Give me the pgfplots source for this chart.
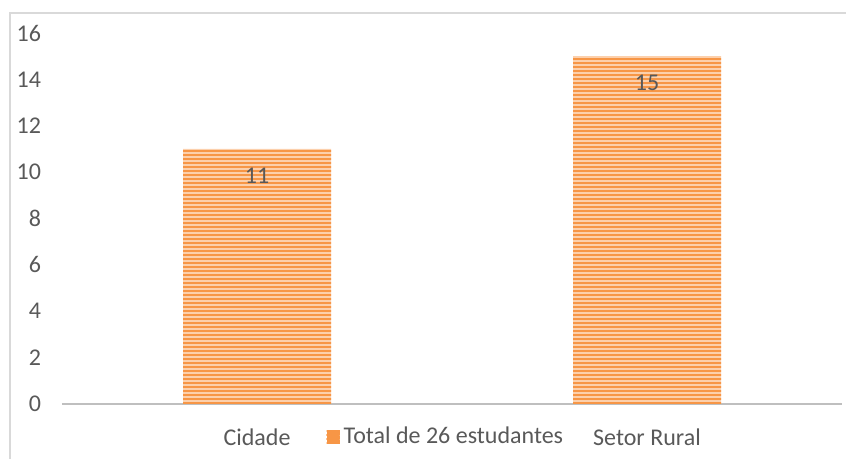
\documentclass[border=0pt]{standalone}
\usepackage{pgfplots}
\pgfplotsset{compat=1.18}
\usetikzlibrary{patterns.meta}
\usepackage{fontspec}
\setmainfont{Carlito}
\definecolor{txt}{HTML}{595959}
\definecolor{frame}{HTML}{D9D9D9}
\definecolor{axisgray}{HTML}{BFBFBF}
\definecolor{barlight}{HTML}{FCD0AC}
\definecolor{bardark}{HTML}{F79646}
\begin{document}
\begin{tikzpicture}[x=1pt,y=1pt]
\useasboundingbox (0,0) rectangle (423,229.5);
\draw[frame, line width=0.8pt] (5,0) -- (5,223) -- (423,223);
\begin{axis}[
  at={(31pt,27.5pt)}, anchor=south west,
  scale only axis, width=390pt, height=185.5pt,
  xmin=-0.5, xmax=1.5, ymin=0, ymax=16,
  xtick={0,1}, xticklabels={Cidade, Setor Rural},
  ytick={0,2,...,16},
  axis y line*=left, axis x line*=bottom,
  y axis line style={draw=none},
  x axis line style={axisgray, line width=1.3pt, -},
  major tick length=0pt,
  ymajorgrids=false,
  ybar, bar width=74pt,
  /pgf/number format/assume math mode=true,
  tick label style={font=\fontsize{12}{14}\selectfont, text=txt},
  yticklabel style={anchor=east, xshift=-7pt},
  xticklabel style={anchor=center, yshift=-16.5pt},
  nodes near coords,
  every node near coord/.append style={font=\fontsize{12}{14}\selectfont, text=txt, anchor=center, yshift=-13.5pt},
  legend style={at={(rel axis cs:0.4935,-0.089)}, anchor=center, draw=none, fill=none,
     font=\fontsize{12}{14}\selectfont, text=txt, inner sep=0pt,
     /tikz/every even column/.append style={column sep=2.5pt}},
  legend image code/.code={\fill[bardark] (0pt,-3.3pt) rectangle (6.5pt,3.3pt);
     \fill[barlight] (0pt,-1.6pt) rectangle (6.5pt,-0.8pt);
     \fill[barlight] (0pt,0.4pt) rectangle (6.5pt,1.2pt);},
  clip=false,
]
\addplot[fill=barlight, draw=none,
  postaction={pattern={Lines[angle=0, distance=2pt, line width=0.9pt]}, pattern color=bardark}]
  coordinates {(0,11) (1,15)};
\addlegendentry{Total de 26 estudantes}
\end{axis}
\end{tikzpicture}
\end{document}
